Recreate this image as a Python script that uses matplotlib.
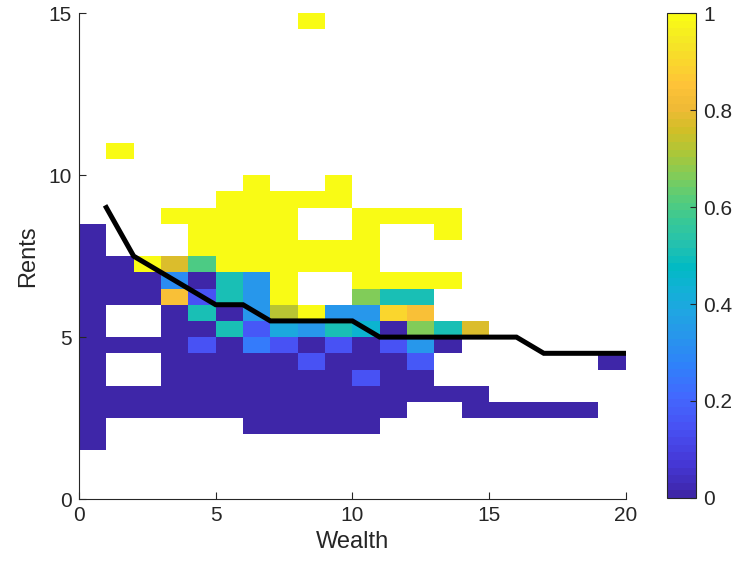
import numpy as np
import matplotlib
matplotlib.use("Agg")
from matplotlib import pyplot as plt
from matplotlib.colors import LinearSegmentedColormap

plt.rcParams['font.family'] = ['Liberation Sans', 'DejaVu Sans']

# parula (old MATLAB default): (index out of 63, rgb)
parula_pts = [
    (0, (0.2422, 0.1504, 0.6603)), (4, (0.2706, 0.2147, 0.8364)),
    (9, (0.2810, 0.3228, 0.9579)), (13, (0.2602, 0.4123, 0.9952)),
    (17, (0.1834, 0.5074, 0.9798)), (21, (0.1540, 0.5902, 0.9218)),
    (24, (0.1248, 0.6459, 0.8883)), (27, (0.0689, 0.6948, 0.8394)),
    (30, (0.0067, 0.7312, 0.7660)), (33, (0.1408, 0.7584, 0.6842)),
    (36, (0.2161, 0.7843, 0.5923)), (39, (0.3406, 0.8008, 0.4789)),
    (42, (0.5044, 0.7993, 0.3480)), (45, (0.6720, 0.7793, 0.2227)),
    (48, (0.8203, 0.7498, 0.1535)), (51, (0.9393, 0.7288, 0.2100)),
    (54, (0.9970, 0.7659, 0.2199)), (57, (0.9786, 0.8386, 0.1766)),
    (60, (0.9597, 0.9135, 0.1423)), (63, (0.9769, 0.9839, 0.0805)),
]
parula = LinearSegmentedColormap.from_list(
    "parula", [(i / 63, c) for i, c in parula_pts], N=64)

n = np.nan
# rent bins (lower edge), 0.5 wide
rent_bins = np.arange(1.5, 11.0, 0.5)

# share per wealth level, one list per wealth column, over rent_bins
w00 = [0, 0, 0, 0, 0, 0, 0, 0, 0, 0, 0, 0, 0, 0, n, n, n, n, n]
w01 = [n, n, 0, 0, n, n, 0, n, n, 0, 0, 0, n, n, n, n, n, n, 1]
w02 = [n, n, 0, 0, n, n, 0, n, n, 0, 0, 1, n, n, n, n, n, n, n]
w03 = [n, n, 0, 0, 0, 0, 0, 0, 0, .83, .3, .77, n, n, 1, n, n, n, n]
w04 = [n, n, 0, 0, 0, 0, .15, 0, .5, .15, 0, .6, 1, 1, 1, n, n, n, n]
w05 = [n, n, 0, 0, 0, 0, 0, .5, 0, .5, .5, 1, 1, 1, 1, 1, n, n, n]
w06 = [n, 0, 0, 0, 0, 0, .25, .17, .33, .33, .33, 1, 1, 1, 1, 1, 1, n, n]
w07 = [n, 0, 0, 0, 0, 0, .15, .4, .72, 1, 1, 1, 1, 1, 1, 1, n, n, n]
w08 = [n, 0, 0, 0, 0, .15, 0, .33, 1, n, n, 1, 1, n, n, 1, n, n, n]
w09 = [n, 0, 0, 0, 0, 0, .15, .5, .33, n, n, 1, 1, n, n, 1, 1, n, n]
w10 = [n, 0, 0, 0, .15, 0, 0, .45, .33, .67, 1, 1, 1, 1, 1, n, n, n, n]
w11 = [n, n, 0, 0, 0, 0, .15, 0, .9, .5, 1, n, n, n, 1, n, n, n, n]
w12 = [n, n, n, 0, 0, .17, .33, .67, .83, .5, 1, n, n, n, 1, n, n, n, n]
w13 = [n, n, n, 0, n, n, 0, .5, n, n, 1, n, n, 1, 1, n, n, n, n]
w14 = [n, n, 0, 0, n, n, n, .77, n, n, n, n, n, n, n, n, n, n, n]
w15 = [n, n, 0, n, n, n, n, n, n, n, n, n, n, n, n, n, n, n, n]
w16 = [n, n, 0, n, n, n, n, n, n, n, n, n, n, n, n, n, n, n, n]
w17 = [n, n, 0, n, n, n, n, n, n, n, n, n, n, n, n, n, n, n, n]
w18 = [n, n, 0, n, n, n, n, n, n, n, n, n, n, n, n, n, n, n, n]
w19 = [n, n, n, n, n, 0, n, n, n, n, n, n, n, n, n, n, n, n, n]
# lone cell far up
outlier_wealth, outlier_rent, outlier_val = 8, 14.5, 1

# threshold rent per wealth level
line_wealth = np.arange(1, 21)
line_rent = [9, 7.5, 7, 6.5, 6, 6, 5.5, 5.5, 5.5, 5.5,
             5, 5, 5, 5, 5, 5, 4.5, 4.5, 4.5, 4.5]

cols = [w00, w01, w02, w03, w04, w05, w06, w07, w08, w09,
        w10, w11, w12, w13, w14, w15, w16, w17, w18, w19]
x_edges = np.arange(0, 21)
y_edges = np.arange(0, 15.01, 0.5)
grid = np.full((len(y_edges) - 1, len(x_edges) - 1), np.nan)
row0 = int(round(rent_bins[0] / 0.5))
for j, c in enumerate(cols):
    grid[row0:row0 + len(c), j] = c
grid[int(round(outlier_rent / 0.5)), outlier_wealth] = outlier_val

txt = '#262626'
fig = plt.figure(figsize=(7.38, 5.73), dpi=100)
ax = fig.add_axes([0.107, 0.129, 0.741, 0.848])
cax = fig.add_axes([0.904, 0.131, 0.039, 0.846])

mesh = ax.pcolormesh(x_edges, y_edges, np.ma.masked_invalid(grid),
                     cmap=parula, vmin=0, vmax=1, linewidth=0)
ax.plot(line_wealth, line_rent, color='black', lw=3.6, solid_joinstyle='miter')

ax.set_xlim(0, 20)
ax.set_ylim(0, 15)
ax.set_xticks([0, 5, 10, 15, 20])
ax.set_yticks([0, 5, 10, 15])
for s in ['top', 'right']:
    ax.spines[s].set_visible(False)
for s in ['left', 'bottom']:
    ax.spines[s].set_color(txt)
    ax.spines[s].set_linewidth(0.8)
ax.tick_params(direction='in', length=5, width=0.8, colors=txt, labelsize=15, pad=5)
ax.set_xlabel('Wealth', fontsize=17, color=txt, labelpad=4)
ax.set_ylabel('Rents', fontsize=17, color=txt, labelpad=7)

cb = fig.colorbar(mesh, cax=cax, ticks=[0, 0.2, 0.4, 0.6, 0.8, 1])
cb.ax.set_yticklabels(['0', '0.2', '0.4', '0.6', '0.8', '1'])
cb.outline.set_edgecolor(txt)
cb.outline.set_linewidth(0.8)
cax.tick_params(direction='in', length=4, width=0.8, colors=txt, labelsize=15, pad=5)

fig.savefig('out.png', dpi=100)
